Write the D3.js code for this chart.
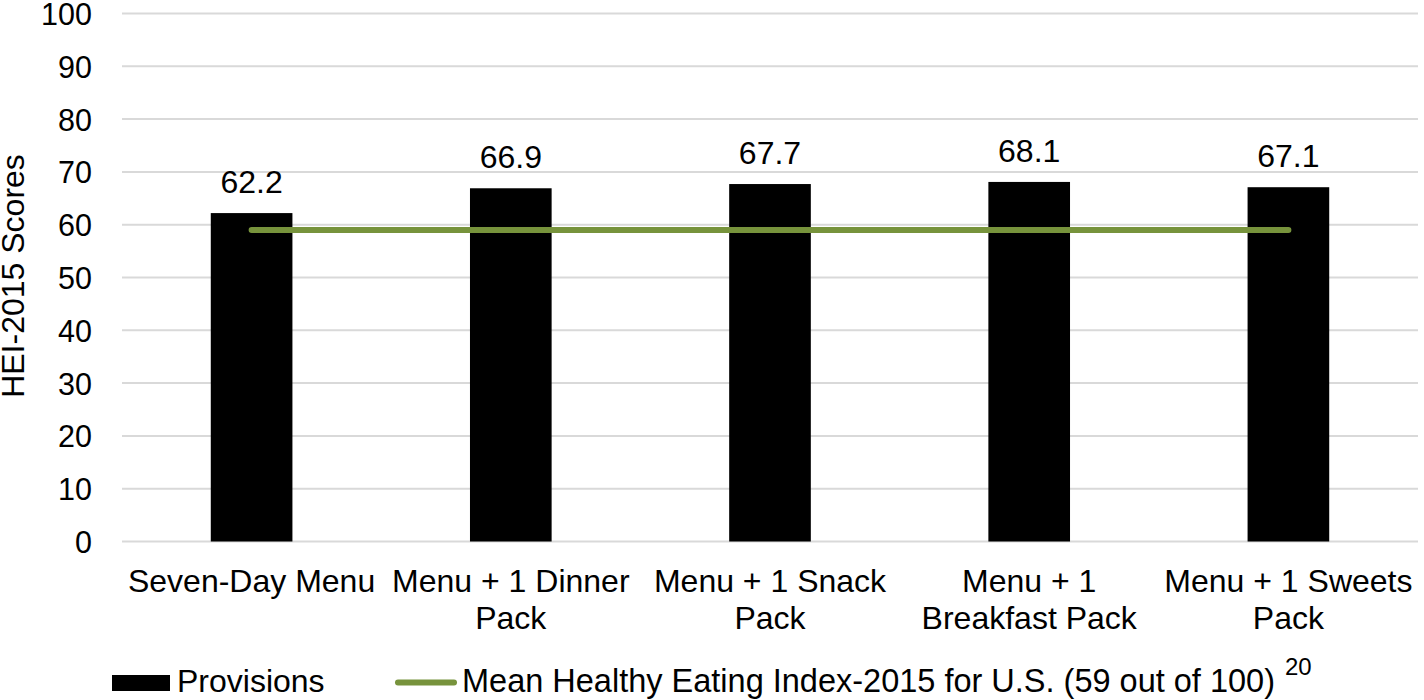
<!DOCTYPE html>
<html><head><meta charset="utf-8">
<script src="https://cdn.jsdelivr.net/npm/d3@7"></script>
<style>body{margin:0;background:#fff}svg{display:block}text{font-family:"Liberation Sans",Arial,sans-serif;fill:#000}</style>
</head><body>
<script>
const categories = ["Seven-Day Menu","Menu + 1 Dinner Pack","Menu + 1 Snack Pack","Menu + 1 Breakfast Pack","Menu + 1 Sweets Pack"];
const categoryLines = [["Seven-Day Menu"],["Menu + 1 Dinner","Pack"],["Menu + 1 Snack","Pack"],["Menu + 1","Breakfast Pack"],["Menu + 1 Sweets","Pack"]];
const provisions = [62.2, 66.9, 67.7, 68.1, 67.1];
const meanHEI = [59, 59, 59, 59, 59];
const yTicks = [0,10,20,30,40,50,60,70,80,90,100];
const yTitle = "HEI-2015 Scores";
const seriesNames = ["Provisions","Mean Healthy Eating Index-2015 for U.S. (59 out of 100)"];
const superscript = "20";

const W=1424,H=700;
const svg=d3.select("body").append("svg").attr("width",W).attr("height",H);
const x=d3.scaleBand().domain(categories).range([122,1418]).paddingInner(0.685).paddingOuter(0.3425);
const y=d3.scaleLinear().domain([0,100]).range([541.5,13.5]);
const FS=32;

// gridlines
svg.append("g").selectAll("line").data(yTicks).join("line")
  .attr("x1",122).attr("x2",1418).attr("y1",d=>y(d)).attr("y2",d=>y(d))
  .attr("stroke","#d9d9d9").attr("stroke-width",2);

// y axis labels
const yAxis=d3.axisLeft(y).tickValues(yTicks).tickSize(0).tickPadding(0);
const ya=svg.append("g").attr("transform","translate(92,0)").call(yAxis);
ya.select(".domain").remove();
ya.selectAll("text").attr("font-size",30.5).attr("font-family","Liberation Sans, Arial, sans-serif").attr("fill","#000").attr("dy","0.36em");

// y title
svg.append("text").attr("transform","translate(24,276) rotate(-90)")
  .attr("text-anchor","middle").attr("font-size",32).text(yTitle);

// bars
svg.append("g").selectAll("rect").data(provisions).join("rect")
  .attr("x",(d,i)=>x(categories[i])).attr("width",x.bandwidth())
  .attr("y",d=>y(d)).attr("height",d=>y(0)-y(d)).attr("fill","#000");

// value labels
svg.append("g").selectAll("text").data(provisions).join("text")
  .attr("x",(d,i)=>x(categories[i])+x.bandwidth()/2).attr("y",d=>y(d)-20)
  .attr("text-anchor","middle").attr("font-size",FS).text(d=>d.toFixed(1));

// line
const line=d3.line().x((d,i)=>x(categories[i])+x.bandwidth()/2).y(d=>y(d));
svg.append("path").datum(meanHEI).attr("d",line).attr("fill","none")
  .attr("stroke","#77933c").attr("stroke-width",6).attr("stroke-linecap","round");

// x labels
const xl=svg.append("g").selectAll("text").data(categoryLines).join("text")
  .attr("text-anchor","middle").attr("font-size",FS)
  .attr("x",(d,i)=>x(categories[i])+x.bandwidth()/2);
xl.selectAll("tspan").data(d=>d).join("tspan")
  .attr("x",function(){return this.parentNode.getAttribute("x");})
  .attr("y",(d,j)=>592+j*36.5).text(d=>d);

// legend
const lg=svg.append("g");
lg.append("rect").attr("x",112).attr("y",675).attr("width",58).attr("height",16).attr("fill","#000");
lg.append("text").attr("x",177).attr("y",692).attr("font-size",FS).text(seriesNames[0]);
lg.append("line").attr("x1",398).attr("x2",454).attr("y1",682.5).attr("y2",682.5)
  .attr("stroke","#77933c").attr("stroke-width",6).attr("stroke-linecap","round");
lg.append("text").attr("x",462).attr("y",692).attr("font-size",32.5).text(seriesNames[1]);
lg.append("text").attr("x",1285).attr("y",675).attr("font-size",24).text(superscript);
</script>
</body></html>
